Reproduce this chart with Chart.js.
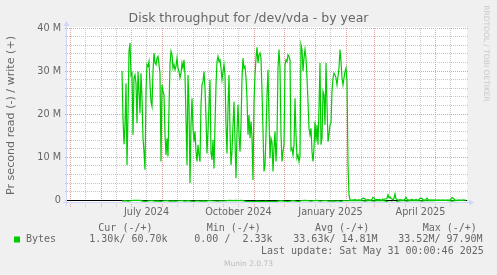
<!DOCTYPE html>
<html><head><meta charset="utf-8">
<script src="https://cdn.jsdelivr.net/npm/chart.js@4"></script>
<style>html,body{margin:0;padding:0;background:#f0f0f0;overflow:hidden}canvas{display:block}</style>
</head><body>
<canvas id="c" width="497" height="275"></canvas>
<script>
// ---------- data ----------
const chartTitle = 'Disk throughput for /dev/vda - by year';
const yAxisTitle = 'Pr second read (-) / write (+)';
const rangeStart = '2024-04-27T12:00:00Z';
const rangeEnd   = '2025-06-01T12:00:00Z';
const seriesStart = '2024-06-21T12:00:00Z';   // first daily sample
const seriesName = 'Bytes';

// write (+), daily averages, millions of bytes per second
const writeM = [
  30, 19, 13, 17.5, 27.2, 8.2, 19.8, 34.6, 36.5, 29,
  29.5, 15.2, 28.4, 29.1, 27.2, 17.9, 29.9, 25.3, 20.2, 29.5,
  23.7, 14.4, 11.3, 7.1, 25.3, 31.5, 31.1, 32.2, 26.8, 22.9,
  21.8, 29.9, 34.2, 31.9, 31.5, 33, 33.4, 31.5, 29.5, 9,
  26.8, 25.3, 24.5, 15.2, 10.5, 14.4, 10.2, 21.4, 31.5, 34.6,
  33.8, 30.7, 31.5, 30.3, 31.1, 33, 30.7, 29.9, 28.4, 29.5,
  31.9, 30.7, 32.6, 29.1, 19.1, 8.2, 29.1, 22.2, 4, 17.5,
  23.7, 16.7, 13.6, 16, 11.3, 9, 12.9, 10.5, 9, 22.2,
  26.8, 27.6, 29.9, 26, 19.1, 10.9, 16, 22.2, 28, 11,
  9.4, 14, 7.4, 17.5, 26.8, 32.2, 33.4, 32.2, 32.6, 30.7,
  28, 29.9, 31.5, 29.1, 17.5, 10.9, 21.4, 29.1, 16, 8.2,
  11.3, 17.5, 22.9, 13.6, 5.1, 16, 22.2, 15.2, 11.3, 17.5,
  28.4, 33, 30.7, 31.1, 28.4, 23.7, 15.2, 19.8, 14.4, 18.3,
  14.4, 4.7, 22.9, 29.1, 33, 35.5, 31.9, 33.8, 34.2, 33,
  25.3, 16, 6.7, 8.2, 15.2, 24.5, 30.3, 19.1, 9.8, 14.4,
  13.6, 6.7, 12.1, 16, 9, 14.4, 30.7, 35, 30.7, 15.2,
  9, 11.3, 12.9, 31.5, 32.6, 32.2, 33.8, 33.4, 32.6, 11.7,
  12.1, 10.5, 12.9, 23.7, 15.2, 9.8, 10.5, 9, 10.2, 36.1,
  35, 30, 33, 35, 33, 28.4, 22.9, 16.7, 15.2, 16.7,
  11.3, 9, 12.1, 18.3, 13.6, 17.5, 12.9, 21.4, 31.9, 12.9,
  14.4, 25.3, 24.5, 17.5, 31.9, 22.2, 13.6, 15.2, 17.5, 17.9,
  25.3, 28.4, 29.5, 29.1, 28.4, 26.8, 28.8, 30.7, 35, 32.2,
  28.4, 26.8, 28.4, 29.9, 30.7, 27.6, 8.2, 1.2, 0.1, 0.05,
  0.03, 0.05, 0.08, 0.2, 0.05, 0.03, 0.05, 0.1, 0.05, 0.1,
  0.3, 0.45, 0.5, 0.3, 0.1, 0.05, 0.2, 0.05, 0.1, 0.05,
  0.3, 0.7, 0.6, 0.2, 0.1, 0.2, 0.1, 0.2, 0.15, 0.05,
  0.1, 0.3, 0.2, 0.3, 0.35, 0.5, 1.3, 0.6, 0.8, 0.4,
  0.3, 0.1, 0.5, 1.5, 0.4, 0.2, 0.1, 0.05, 0.2, 0.05,
  0.1, 0.05, 0.1, 0.3, 0.7, 0.3, 0.05, 0.1, 0.05, 0.1,
  0.25, 0.1, 0.05, 0.1, 0.2, 0.05, 0.1, 0.2, 0.45, 0.5,
  0.4, 0.1, 0.05, 0.1, 0.2, 0.5, 0.2, 0.05, 0.1, 0.05,
  0.03, 0.05, 0.1, 0.05, 0.03, 0.05, 0.03, 0.05, 0.03, 0.02,
  0.03, 0.05, 0.03, 0.02, 0.03, 0.05, 0.03, 0.05, 0.1, 0.3,
  0.7, 0.5, 0.3, 0.05, 0.03, 0.02, 0.03, 0.05, 0.03, 0.02,
  0.03, 0.05, 0.03, 0.05, 0.06
];

// read (-), one sample every 3 days, millions of bytes per second
const readStepDays = 3;
const readM = [
  -0.15, -0.05, -0.2, -0.05, -0.02, -0.03, -0.02, -0.2, -0.25, -0.1,
  -0.05, -0.2, -0.15, -0.25, -0.1, -0.05, -0.2, -0.15, -0.2, -0.1,
  -0.05, -0.2, -0.05, -0.2, -0.25, -0.1, -0.2, -0.15, -0.2, -0.05,
  -0.1, -0.15, -0.2, -0.1, -0.15, -0.05, -0.03, -0.05, -0.02, -0.05,
  -0.03, -0.2, -0.3, -0.25, -0.3, -0.2, -0.25, -0.3, -0.2, -0.3,
  -0.25, -0.3, -0.2, -0.05, -0.2, -0.25, -0.2, -0.05, -0.2, -0.25,
  -0.05, -0.03, -0.05, -0.2, -0.05, -0.03, -0.2, -0.1, -0.05, -0.2,
  -0.15, -0.2, -0.1, -0.25, -0.05, -0.1, -0.05, -0.03, -0.05, -0.03,
  -0.1, -0.2, -0.05, -0.1, -0.2, -0.05, -0.1, -0.05, -0.2, -0.5,
  -0.4, -0.6, -0.2, -0.05, -0.1, -0.2, -0.05, -0.1, -0.05, -0.1,
  -0.2, -0.05, -0.1, -0.03, -0.05, -0.03, -0.02, -0.03, -0.02, -0.05,
  -0.2, -0.05, -0.02, -0.03, -0.02
];

// time axis grid / labels
const monthStarts = ['2024-05-01','2024-06-01','2024-07-01','2024-08-01','2024-09-01','2024-10-01',
  '2024-11-01','2024-12-01','2025-01-01','2025-02-01','2025-03-01','2025-04-01','2025-05-01'];
const monthMids = ['2024-05-16','2024-06-16','2024-07-16','2024-08-16','2024-09-16','2024-10-16',
  '2024-11-16','2024-12-16','2025-01-16','2025-02-16','2025-03-16','2025-04-16','2025-05-16'];
const labelDates = ['2024-07-16','2024-10-16','2025-01-16','2025-04-16'];
const labelTexts = ['July 2024','October 2024','January 2025','April 2025'];

// value axis (millions)
const yMin = -0.62, yMax = 40;
const yGridM = [0,2,4,6,8,10,12,14,16,18,20,22,24,26,28,30,32,34,36,38,40];
const yLabelM = [0,10,20,30,40];
const yLabelText = ['0','10 M','20 M','30 M','40 M'];

// legend table
const legendHeaders = ['Cur (-/+)','Min (-/+)','Avg (-/+)','Max (-/+)'];
const legendValues  = ['1.30k/ 60.70k','0.00 /  2.33k','33.63k/ 14.81M','33.52M/ 97.90M'];
const lastUpdate = 'Last update: Sat May 31 00:00:46 2025';
const footer = 'Munin 2.0.73';
const watermark = 'RRDTOOL / TOBI OETIKER';

// ---------- build ----------
const DAY_MS = 86400000;
const t0 = Date.parse(rangeStart);
function dayOf(s){ return (Date.parse(s.length === 10 ? s + 'T00:00:00Z' : s) - t0) / DAY_MS; }
const d0 = dayOf(seriesStart);
const writeData = writeM.map((v,i)=>({x: d0 + i, y: v}));
const readData = readM.map((v,i)=>({x: d0 + i*readStepDays, y: v}));
const majorX = monthStarts.map(dayOf);
const minorX = monthMids.map(dayOf);
const labelX = labelDates.map(dayOf);
const xTickVals = majorX.concat(minorX).sort((a,b)=>a-b);
const near = (a,b)=>Math.abs(a-b) < 1e-6;

const FONT = '#666666';
const GREEN = '#00cc00';
const AXIS = '#CFD6F8';
const MAJ = '#eba0a0';
const MIN = '#c6c6c6';
const SANS = 'DejaVu Sans';
const MONO = 'DejaVu Sans Mono';

function dotsV(c, x, y1, y2){ const xi = Math.round(x - 0.5); for (let y = Math.round(y1); y <= y2; y += 2) c.fillRect(xi, y, 1, 1); }
function dotsH(c, y, x1, x2){ const yi = Math.round(y - 0.5); for (let x = Math.round(x1); x <= x2; x += 2) c.fillRect(x, yi, 1, 1); }

const decor = {
  id: 'decor',
  beforeDraw(chart){
    const c = chart.ctx, a = chart.chartArea;
    c.save();
    c.fillStyle = '#f0f0f0';
    c.fillRect(0,0,chart.width,chart.height);
    c.fillStyle = '#ffffff';
    c.fillRect(a.left-1, a.top-1, a.right-a.left+1, a.bottom-a.top+1);
    c.restore();
  },
  beforeDatasetsDraw(chart){
    const c = chart.ctx, a = chart.chartArea, xs = chart.scales.x, ys = chart.scales.y;
    c.save();
    c.fillStyle = MIN;
    xs.ticks.forEach(t => { if (!majorX.some(m => near(m, t.value))) dotsV(c, xs.getPixelForValue(t.value), a.top, a.bottom + 3); });
    ys.ticks.forEach(t => { if (!yLabelM.some(m => near(m, t.value))) dotsH(c, ys.getPixelForValue(t.value), a.left - 2, a.right); });
    c.fillStyle = MAJ;
    xs.ticks.forEach(t => { if (majorX.some(m => near(m, t.value))) dotsV(c, xs.getPixelForValue(t.value), a.top, a.bottom + 3); });
    ys.ticks.forEach(t => { if (yLabelM.some(m => near(m, t.value))) dotsH(c, ys.getPixelForValue(t.value), a.left - 2, a.right); });
    const y0 = Math.round(ys.getPixelForValue(0) - 0.5);
    c.fillStyle = '#000000';
    c.fillRect(a.left, y0, a.right - a.left, 1);
    c.restore();
  },
  afterDatasetsDraw(chart){
    const c = chart.ctx, a = chart.chartArea;
    c.save();
    c.strokeStyle = AXIS; c.fillStyle = AXIS; c.lineWidth = 1;
    const xa = a.left - 0.5, ya = a.bottom - 0.5;
    c.beginPath(); c.moveTo(a.left - 4, ya); c.lineTo(a.right + 2, ya); c.stroke();
    c.beginPath(); c.moveTo(xa, a.bottom + 3); c.lineTo(xa, a.top - 3); c.stroke();
    c.beginPath(); c.moveTo(a.right + 2, ya - 3); c.lineTo(a.right + 7, ya); c.lineTo(a.right + 2, ya + 3); c.closePath(); c.fill();
    c.beginPath(); c.moveTo(xa - 3, a.top - 2); c.lineTo(xa, a.top - 7); c.lineTo(xa + 3, a.top - 2); c.closePath(); c.fill();
    c.restore();
  },
  afterDraw(chart){
    const c = chart.ctx;
    c.save();
    c.textBaseline = 'middle'; c.textAlign = 'left'; c.fillStyle = FONT;
    c.font = '10px "' + MONO + '"';
    const hx = [98.3, 206.7, 315, 422.7];
    const vx = [89.3, 194.3, 293.3, 398.3];
    legendHeaders.forEach((h,i)=>c.fillText(h, hx[i], 228));
    legendValues.forEach((v,i)=>c.fillText(v, vx[i], 239.5));
    c.fillText(seriesName, 26, 239.5);
    c.fillText(lastUpdate, 261, 251.5);
    c.fillStyle = GREEN;
    c.fillRect(14, 236.5, 6, 6);
    c.fillStyle = '#bbbbbb';
    c.textAlign = 'center';
    c.font = '7.5px "' + SANS + '"';
    c.fillText(footer, 248.5, 264.3);
    c.fillStyle = '#c8c8c8';
    c.translate(486, 53.5);
    c.rotate(Math.PI/2);
    c.fillText(watermark, 0, 0);
    c.restore();
  }
};

new Chart(document.getElementById('c'), {
  type: 'line',
  data: { datasets: [
    {label: seriesName + ' write', data: writeData, xAxisID:'x', yAxisID:'y', borderColor: GREEN, borderWidth: 1.2, pointRadius: 0, tension: 0, fill: false},
    {label: seriesName + ' read', data: readData, xAxisID:'x', yAxisID:'y', borderColor: GREEN, borderWidth: 1.2, pointRadius: 0, tension: 0, fill: false}
  ]},
  options: {
    responsive: false, animation: false, devicePixelRatio: 1,
    layout: {padding: {left: 0, right: 0, top: 0, bottom: 52}},
    plugins: {
      legend: {display: false}, tooltip: {enabled: false},
      title: {display: true, text: chartTitle, color: FONT,
        font: {family: SANS, size: 12.5, weight: 'normal', lineHeight: 1.2},
        padding: {top: 11, bottom: 2}}
    },
    scales: {
      x: {type: 'linear', position: 'bottom', min: 0, max: dayOf(rangeEnd),
        afterBuildTicks: s => { s.ticks = xTickVals.map(v => ({value: v})); },
        afterFit: s => { s.height = 20; },
        ticks: {autoSkip: false, maxRotation: 0, minRotation: 0, padding: 1, color: FONT,
          font: {family: SANS, size: 9.7},
          callback: v => { const i = labelX.findIndex(m => near(m, v)); return i >= 0 ? labelTexts[i] : ''; }},
        grid: {display: false, drawTicks: true, tickLength: 3},
        border: {display: false}
      },
      y: {type: 'linear', position: 'left', min: yMin, max: yMax,
        afterBuildTicks: s => { s.ticks = yGridM.map(v => ({value: v})); },
        afterFit: s => { s.width = 67; },
        ticks: {autoSkip: false, padding: 4, color: FONT, font: {family: SANS, size: 9.7},
          callback: v => { const i = yLabelM.findIndex(m => near(m, v)); return i >= 0 ? yLabelText[i] : ''; }},
        grid: {display: false, drawTicks: true, tickLength: 2},
        border: {display: false},
        title: {display: true, text: yAxisTitle, color: FONT, font: {family: SANS, size: 11.1},
          padding: {top: 4, bottom: 0}}
      },
      y2: {type: 'linear', position: 'right', display: true,
        afterFit: s => { s.width = 30; },
        ticks: {display: false}, grid: {display: false}, border: {display: false}}
    }
  },
  plugins: [decor]
});
</script>
</body></html>
